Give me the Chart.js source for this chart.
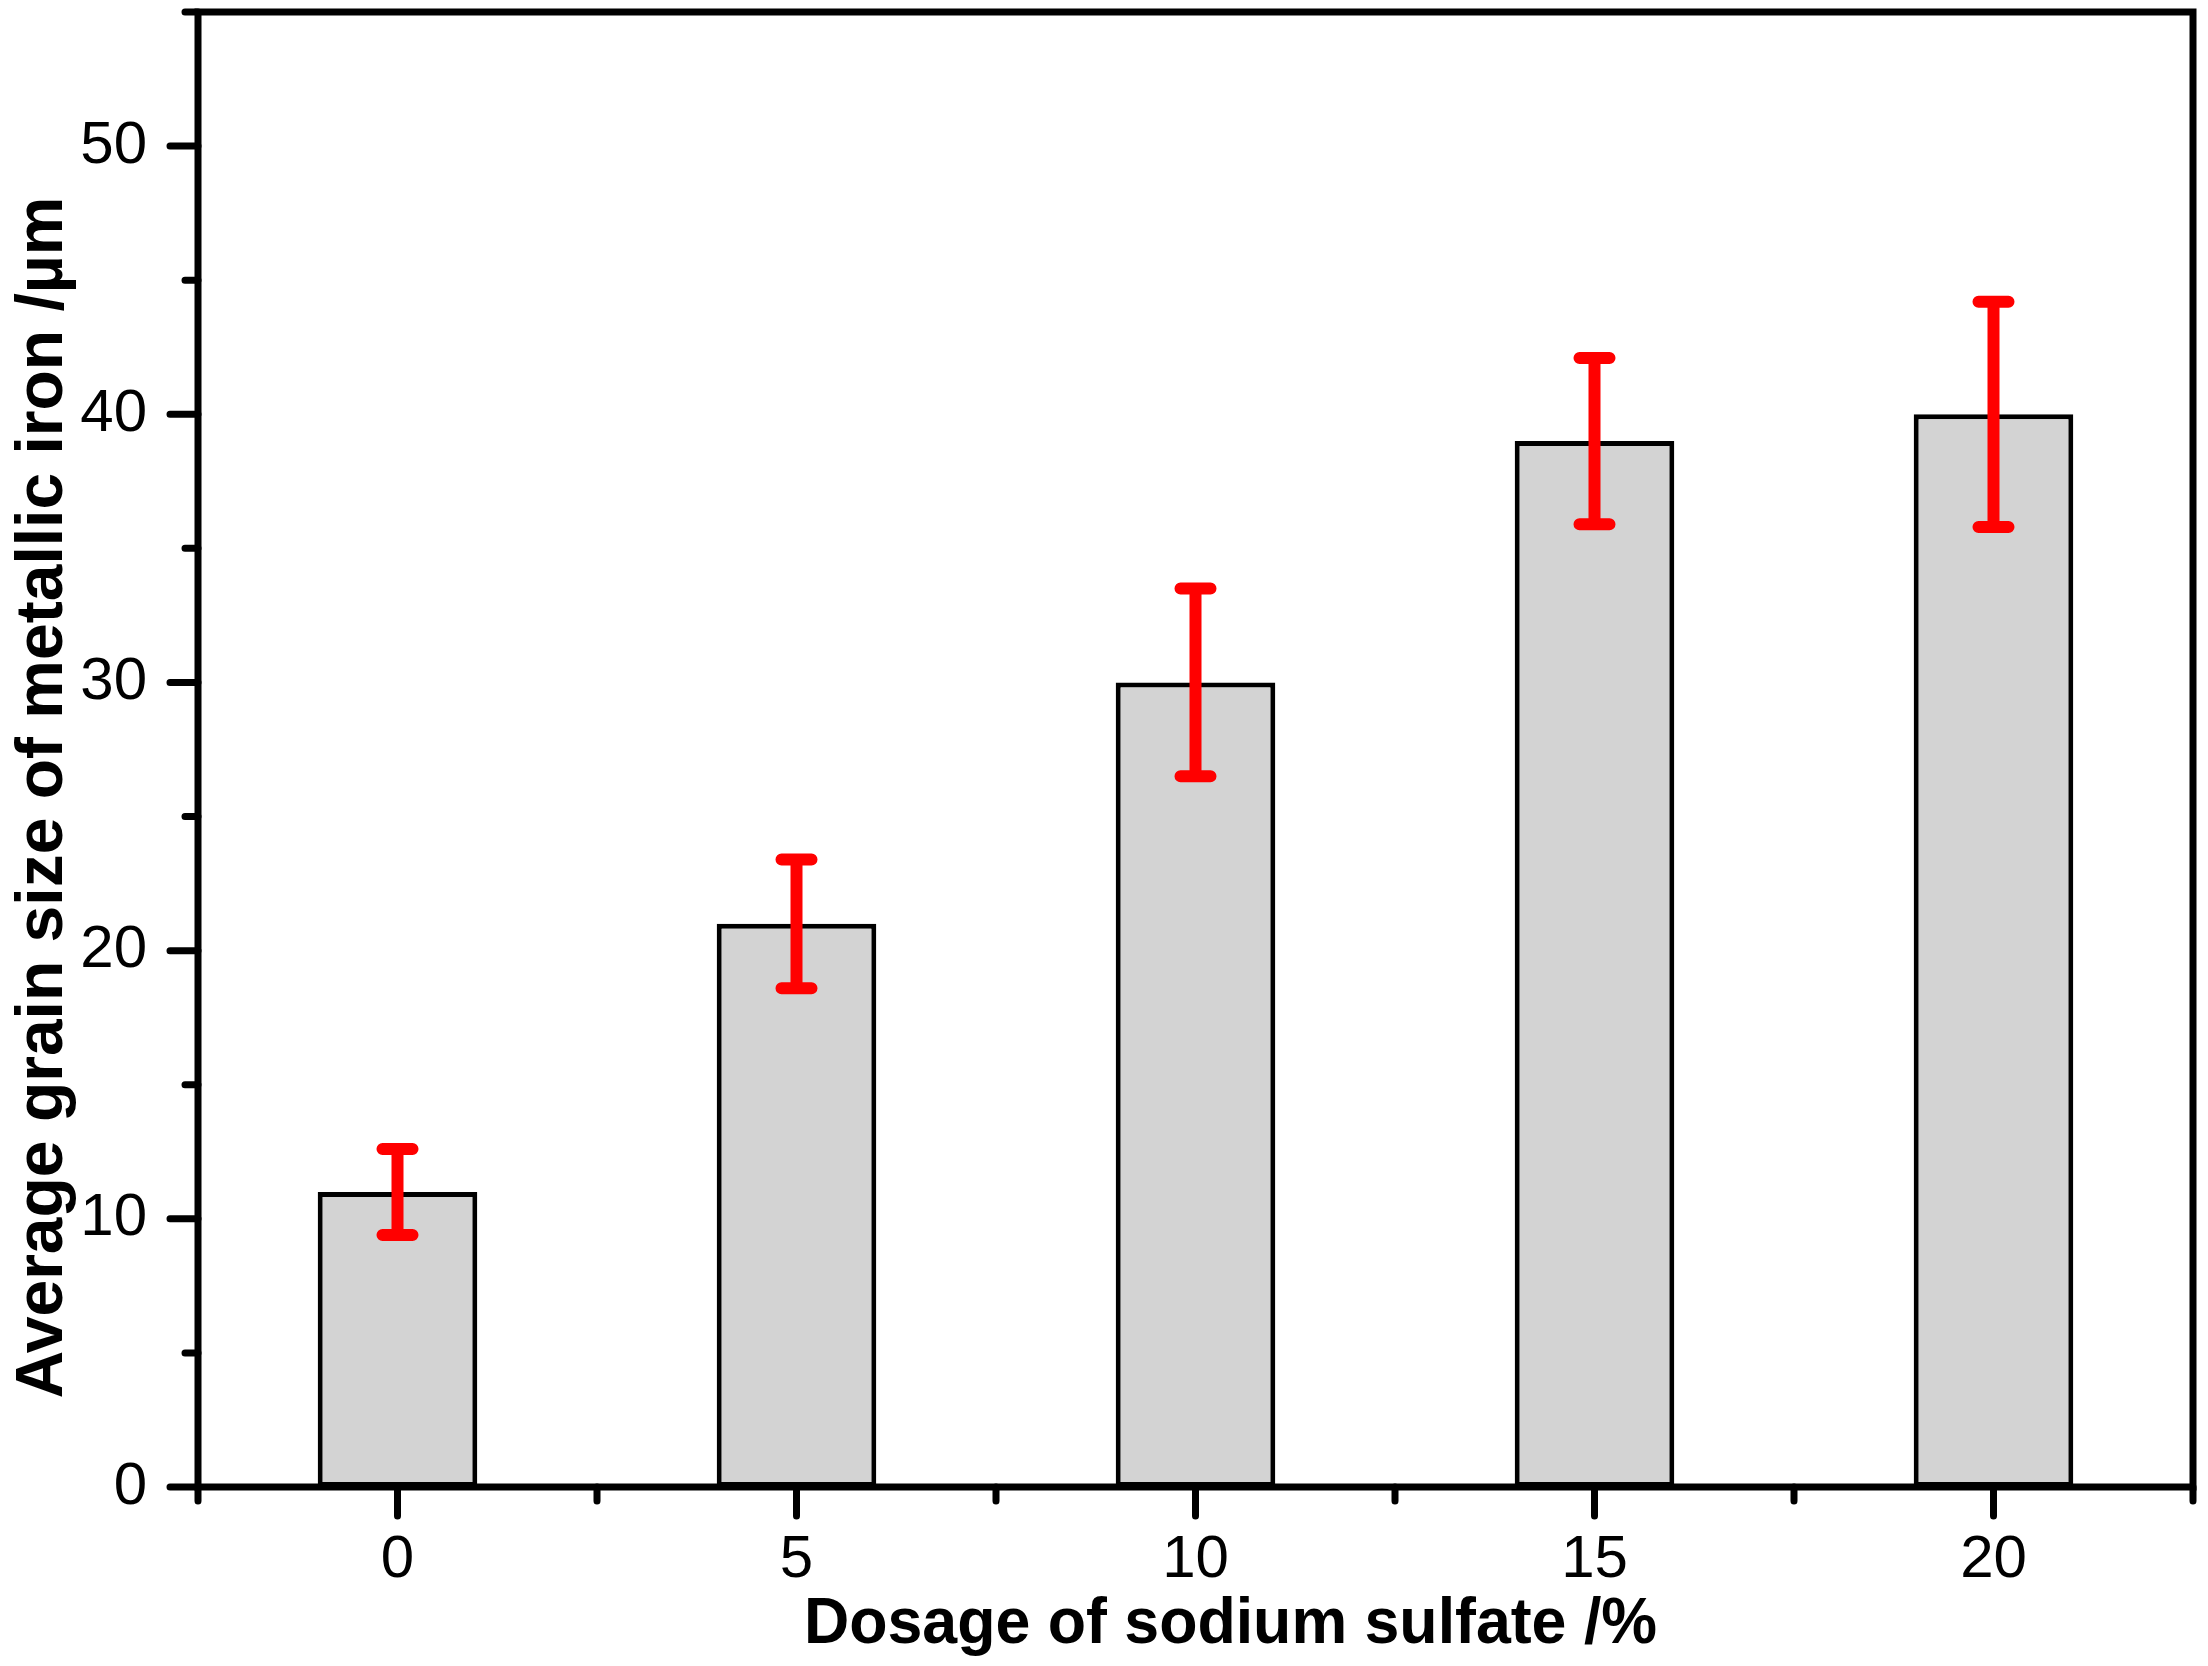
<!DOCTYPE html>
<html>
<head>
<meta charset="utf-8">
<script src="https://cdn.jsdelivr.net/npm/chart.js@4.4.1/dist/chart.umd.min.js"></script>
<style>
  html, body { margin: 0; padding: 0; background: #fff; }
  #wrap { width: 2208px; height: 1666px; }
</style>
</head>
<body>
<div id="wrap"><canvas id="grainChart"></canvas></div>
<script>
const dosages = [0, 5, 10, 15, 20];
const grainSizes = [11, 21, 30, 39, 40];
const grainErrors = [1.6, 2.4, 3.5, 3.1, 4.2];
const xMajorTicks = [0, 5, 10, 15, 20];
const xMinorTicks = [-2.5, 2.5, 7.5, 12.5, 17.5, 22.5];
const yMajorTicks = [0, 10, 20, 30, 40, 50];
const yMinorTicks = [5, 15, 25, 35, 45, 55];
const xTitle = 'Dosage of sodium sulfate /%';
const yTitle = 'Average grain size of metallic iron /µm';

const FONT = "'Liberation Sans', Arial, sans-serif";

// red error bars with rounded caps, drawn on top of the bars
const errorBars = {
    id: 'errorBars',
    afterDatasetsDraw(chart) {
        const { ctx, scales: { x, y } } = chart;
        ctx.save();
        ctx.strokeStyle = '#ff0000';
        ctx.lineWidth = 12;
        dosages.forEach((d, i) => {
            const px = x.getPixelForValue(d);
            const top = y.getPixelForValue(grainSizes[i] + grainErrors[i]);
            const bot = y.getPixelForValue(grainSizes[i] - grainErrors[i]);
            ctx.lineCap = 'butt';
            ctx.beginPath();
            ctx.moveTo(px, top);
            ctx.lineTo(px, bot);
            ctx.stroke();
            ctx.lineCap = 'round';
            ctx.beginPath();
            ctx.moveTo(px - 15, top); ctx.lineTo(px + 15, top);
            ctx.moveTo(px - 15, bot); ctx.lineTo(px + 15, bot);
            ctx.stroke();
        });
        ctx.restore();
    }
};

// box frame, outward major/minor ticks, axis titles
const frameAndTitles = {
    id: 'frameAndTitles',
    afterDraw(chart) {
        const { ctx, chartArea: a, scales: { x, y } } = chart;
        ctx.save();
        ctx.strokeStyle = '#000';
        ctx.lineWidth = 7;
        ctx.lineJoin = 'miter';
        ctx.strokeRect(a.left, a.top, a.right - a.left, a.bottom - a.top);

        ctx.lineCap = 'round';
        ctx.beginPath();
        yMajorTicks.forEach(v => { const py = y.getPixelForValue(v); ctx.moveTo(a.left, py); ctx.lineTo(a.left - 28, py); });
        yMinorTicks.forEach(v => { const py = y.getPixelForValue(v); ctx.moveTo(a.left, py); ctx.lineTo(a.left - 13, py); });
        xMajorTicks.forEach(v => { const px = x.getPixelForValue(v); ctx.moveTo(px, a.bottom); ctx.lineTo(px, a.bottom + 29); });
        xMinorTicks.forEach(v => { const px = x.getPixelForValue(v); ctx.moveTo(px, a.bottom); ctx.lineTo(px, a.bottom + 14); });
        ctx.stroke();

        ctx.fillStyle = '#000';
        ctx.font = `bold 64px ${FONT}`;
        ctx.textBaseline = 'alphabetic';
        ctx.textAlign = 'center';
        const cx = (a.left + a.right) / 2 + 35;
        ctx.fillText(xTitle, cx, 1643, 853);

        ctx.font = `bold 66px ${FONT}`;
        ctx.translate(62, (a.top + a.bottom) / 2 + 48);
        ctx.rotate(-Math.PI / 2);
        ctx.fillText(yTitle, 0, 0);
        ctx.restore();
    }
};

new Chart(document.getElementById('grainChart'), {
    type: 'bar',
    data: {
        datasets: [{
            data: dosages.map((d, i) => ({ x: d, y: grainSizes[i] })),
            backgroundColor: '#d3d3d3',
            borderColor: '#000',
            borderWidth: 5,
            borderSkipped: false,
            barPercentage: 0.4,
            categoryPercentage: 1
        }]
    },
    options: {
        responsive: true,
        maintainAspectRatio: false,
        animation: false,
        layout: { padding: { top: 12, right: 15, left: 0, bottom: 0 } },
        plugins: { legend: { display: false }, tooltip: { enabled: false } },
        scales: {
            x: {
                type: 'linear',
                min: -2.5,
                max: 22.5,
                offset: false,
                grid: { display: false, drawTicks: false },
                border: { display: false },
                afterBuildTicks: s => { s.ticks = xMajorTicks.map(v => ({ value: v })); },
                afterFit: s => { s.height = 179; s.paddingLeft = 0; s.paddingRight = 0; },
                ticks: {
                    color: '#000',
                    padding: 37,
                    maxRotation: 0,
                    font: { family: FONT, size: 60 }
                }
            },
            y: {
                min: 0,
                max: 55,
                grid: { display: false, drawTicks: false },
                border: { display: false },
                afterBuildTicks: s => { s.ticks = yMajorTicks.map(v => ({ value: v })); },
                afterFit: s => { s.width = 198; s.paddingTop = 0; s.paddingBottom = 0; },
                ticks: {
                    color: '#000',
                    padding: 51,
                    font: { family: FONT, size: 60 }
                }
            }
        }
    },
    plugins: [errorBars, frameAndTitles]
});
</script>
</body>
</html>
